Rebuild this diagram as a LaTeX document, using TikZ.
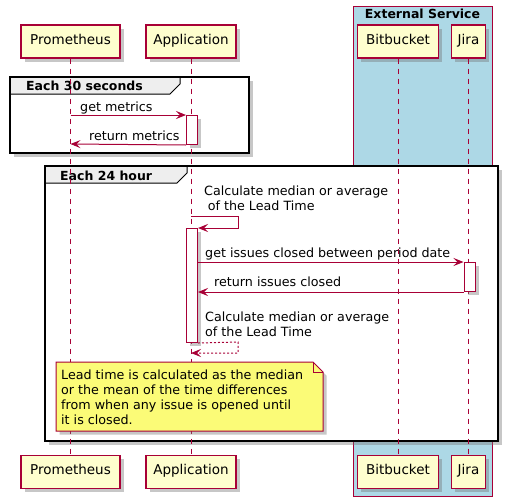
\documentclass[tikz,border=0pt]{standalone}
\usepackage{fontspec}
\setmainfont{DejaVu Sans}
\usetikzlibrary{arrows.meta,shadows}
\definecolor{pborder}{HTML}{A80036}
\definecolor{pfill}{HTML}{FEFECE}
\definecolor{notefill}{HTML}{FBFB77}
\definecolor{extblue}{HTML}{ADD8E6}
\definecolor{grphead}{HTML}{EEEEEE}
\tikzset{
  shad/.style={drop shadow={shadow xshift=3.5pt,shadow yshift=-3.5pt,opacity=0.4,fill=black!55}},
  part/.style={draw=pborder, fill=pfill, line width=1.2pt, inner sep=0pt, minimum height=33pt,
    text height=0.75em, text depth=0.25em, font=\fontsize{13.5}{16}\selectfont, shad},
  lifeline/.style={draw=pborder, line width=1pt, dash pattern=on 5pt off 5pt},
  actbox/.style={draw=pborder, fill=white, line width=1pt, inner sep=0pt, minimum width=11pt, anchor=north west, shad},
  msg/.style={draw=pborder, line width=1pt, -{Stealth[length=10pt,width=8pt,inset=4pt]}},
  retmsg/.style={msg, dash pattern=on 2pt off 2pt},
  lbl/.style={anchor=base west, inner sep=0pt, align=left, font=\fontsize{12.7}{14.7}\selectfont},
  grpframe/.style={draw=black, line width=1.8pt, fill=white, shad},
  grptab/.style={draw=black, line width=1pt, fill=grphead},
  grptitle/.style={anchor=base west, inner sep=0pt, font=\fontsize{12.5}{15}\selectfont\bfseries},
  notebox/.style={draw=pborder, line width=1pt, fill=notefill, shad},
}
\begin{document}
\begin{tikzpicture}[x=1pt,y=-1pt]
\useasboundingbox (0,0) rectangle (511,501);
\fill[white] (0,0) rectangle (511,501);

% External service box
\draw[pborder, fill=extblue, line width=1pt] (353,6) rectangle (492,496);
\node[grptitle, anchor=base] (exttitle) at (422.5,18) {External Service};

% Groups
\draw[grpframe] (10,77) rectangle (249,153);
\draw[grptab] (10,77) -- (180,77) -- (180,84) -- (170,94) -- (10,94) -- cycle;
\draw[line width=1.8pt] (10,77) rectangle (249,153);
\node[grptitle] (g1title) at (26,90) {Each 30 seconds};

\draw[grpframe] (45,166) rectangle (498,441);
\draw[grptab] (45,166) -- (187,166) -- (187,173) -- (177,183) -- (45,183) -- cycle;
\draw[line width=1.8pt] (45,166) rectangle (498,441);
\node[grptitle] (g2title) at (60,180) {Each 24 hour};

% Participants
\node[part, minimum width=99pt] (pT) at (70.5,41.5) {Prometheus};
\node[part, minimum width=90pt] (aT) at (191,41.5) {Application};
\node[part, minimum width=81pt] (bT) at (398,41.5) {Bitbucket};
\node[part, minimum width=34pt] (jT) at (468.5,41.5) {Jira};
\node[part, minimum width=99pt] (pB) at (70.5,472) {Prometheus};
\node[part, minimum width=90pt] (aB) at (191,472) {Application};
\node[part, minimum width=81pt] (bB) at (398,472) {Bitbucket};
\node[part, minimum width=34pt] (jB) at (468.5,472) {Jira};

% Lifelines
\draw[lifeline] (pT.south) -- (pB.north);
\draw[lifeline] (aT.south) -- (aB.north);
\draw[lifeline] (bT.south) -- (bB.north);
\draw[lifeline] (jT.south) -- (jB.north);

% Activations
\node[actbox, minimum height=29pt] (act0) at (186,115) {};
\node[actbox, minimum height=114pt] (act1) at (186,228) {};
\node[actbox, minimum height=29pt] (actJ) at (463.5,262) {};

% Messages group 1
\coordinate (m1s) at (70.5,115);
\coordinate (m2e) at (70.5,144);
\draw[msg] (m1s) -- (act0.north west);
\node[lbl] (l1) at (80,111) {get metrics};
\draw[msg] (act0.south west) -- (m2e);
\node[lbl] (l2) at (89,140) {return metrics};

% Self message 1
\coordinate (s1a) at (191,216);
\coordinate (s1b) at (238,216);
\coordinate (s1c) at (238,228);
\draw[msg] (s1a) -- (s1b) -- (s1c) -- (act1.north east);
\node[lbl] (l3) at (204,210) {Calculate median or average\\\hspace*{3.6pt}of the Lead Time};

% get issues
\coordinate (gi) at (act1.east |- actJ.north);
\coordinate (ri) at (act1.east |- actJ.south);
\draw[msg] (gi) -- (actJ.north west);
\node[lbl] (l4) at (205,257) {get issues closed between period date};
\draw[msg] (actJ.south west) -- (ri);
\node[lbl] (l5) at (214,286) {return issues closed};

% Self message 2 (dashed return)
\coordinate (s2b) at (238,342);
\coordinate (s2c) at (238,353);
\coordinate (s2e) at (191,353);
\draw[retmsg] (act1.south east) -- (s2b) -- (s2c) -- (s2e);
\node[lbl] (l6) at (205,336) {Calculate median or average\\of the Lead Time};

% Note
\draw[notebox] (56,362) -- (313,362) -- (323,372) -- (323,431) -- (56,431) -- cycle;
\draw[pborder, line width=1pt] (313,362) -- (313,372) -- (323,372);
\node[lbl] (note) at (61,424) {Lead time is calculated as the median\\or the mean of the time differences\\from when any issue is opened until\\it is closed.};
\end{tikzpicture}
\end{document}
